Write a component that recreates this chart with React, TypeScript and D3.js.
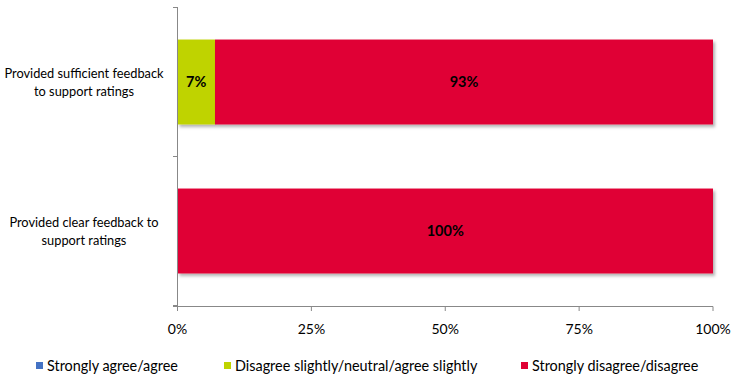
import React from "react";
import * as d3 from "d3";

const categories = [
  ["Provided sufficient feedback", "to support ratings"],
  ["Provided clear feedback to", "support ratings"],
];
const categoryKeys = ["sufficient", "clear"];
const seriesNames = [
  "Strongly agree/agree",
  "Disagree slightly/neutral/agree slightly",
  "Strongly disagree/disagree",
];
const seriesColors = ["#4472C4", "#BFD300", "#E00034"];
const agreeValues = [0, 0];
const neutralValues = [7, 0];
const disagreeValues = [93, 100];
const tickValues = [0, 25, 50, 75, 100];

const W = 739;
const H = 379;

export default function App() {
  const x = d3.scaleLinear().domain([0, 100]).range([177.5, 713]);
  const y = d3
    .scaleBand<string>()
    .domain(categoryKeys)
    .range([7.5, 305.5])
    .paddingInner(0.43)
    .paddingOuter(0.215);

  const rows = categoryKeys.map((k, i) => ({
    key: k,
    agree: agreeValues[i],
    neutral: neutralValues[i],
    disagree: disagreeValues[i],
  }));
  const stack = d3.stack<any>().keys(["agree", "neutral", "disagree"]);
  const series = stack(rows);

  const font = "Lato, 'Liberation Sans', sans-serif";
  const legendX = [36, 224, 521];

  return (
    <svg
      width={W}
      height={H}
      style={{ position: "absolute", left: 0, top: 0, background: "#fff" }}
      fontFamily={font}
    >
      <defs>
        <filter id="sh" x="-5%" y="-10%" width="115%" height="130%">
          <feDropShadow dx="2" dy="2.5" stdDeviation="1.6" floodColor="#000" floodOpacity="0.3" />
        </filter>
      </defs>
      {series.map((s, si) =>
        s.map((d, i) => {
          const w = x(d[1]) - x(d[0]);
          if (w <= 0) return null;
          return (
            <rect
              key={si + "-" + i}
              x={x(d[0])}
              y={y(categoryKeys[i])}
              width={w}
              height={y.bandwidth()}
              fill={seriesColors[si]}
              filter="url(#sh)"
            />
          );
        })
      )}
      {series.map((s, si) =>
        s.map((d, i) => {
          const v = d[1] - d[0];
          if (v <= 0) return null;
          return (
            <text
              key={"l" + si + "-" + i}
              x={(x(d[0]) + x(d[1])) / 2}
              y={(y(categoryKeys[i]) as number) + y.bandwidth() / 2 + 5}
              textAnchor="middle"
              fontWeight="bold"
              fontSize={14.5}
              fill="#000"
            >
              {v}%
            </text>
          );
        })
      )}
      {/* category axis */}
      <line x1={177.5} x2={177.5} y1={7} y2={311} stroke="#888" strokeWidth={1} />
      {[7, 156, 305].map((t) => (
        <line key={t} x1={173} x2={177.5} y1={t + 0.5} y2={t + 0.5} stroke="#888" />
      ))}
      {/* value axis */}
      <line x1={173} x2={713} y1={306.5} y2={306.5} stroke="#888" />
      {tickValues.map((t) => (
        <g key={t}>
          <line x1={x(t)} x2={x(t)} y1={306.5} y2={311} stroke="#888" />
          <text x={x(t)} y={334} textAnchor="middle" fontSize={14} fill="#000">
            {t}%
          </text>
        </g>
      ))}
      {categories.map((lines, i) => {
        const cy = (y(categoryKeys[i]) as number) + y.bandwidth() / 2;
        return (
          <text key={i} textAnchor="middle" fontSize={12.8} fill="#000">
            {lines.map((ln, j) => (
              <tspan key={j} x={84} y={cy - 4 + j * 18}>
                {ln}
              </tspan>
            ))}
          </text>
        );
      })}
      {seriesNames.map((n, i) => (
        <g key={n}>
          <rect x={legendX[i]} y={362} width={7} height={7} fill={seriesColors[i]} />
          <text x={legendX[i] + 11} y={370.5} fontSize={14.4} fill="#000">
            {n}
          </text>
        </g>
      ))}
    </svg>
  );
}
